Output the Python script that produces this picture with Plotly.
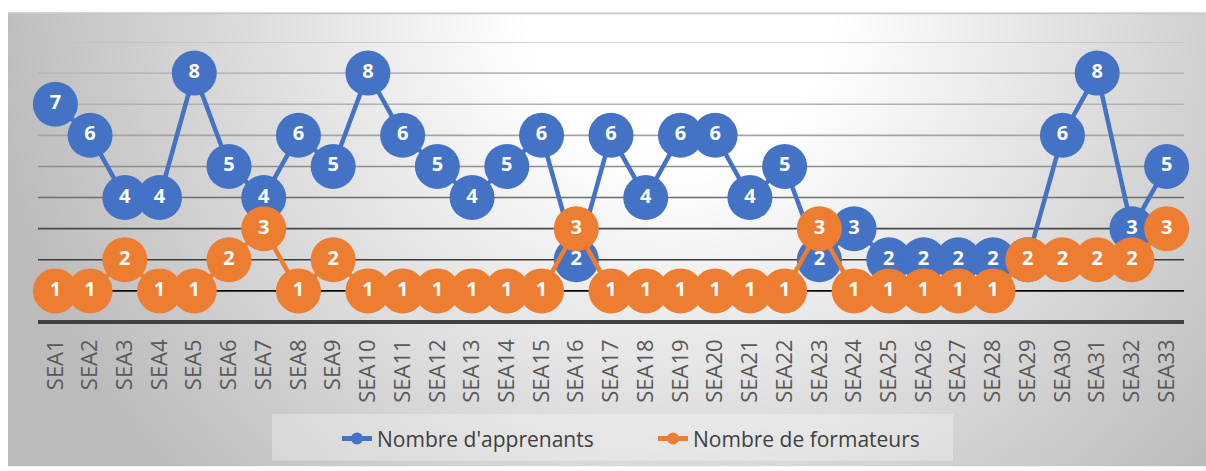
import base64
import plotly.graph_objects as go

# Sessions and counts per session
categories = [f"SEA{i}" for i in range(1, 34)]
apprenants = [7, 6, 4, 4, 8, 5, 4, 6, 5, 8, 6, 5, 4, 5, 6, 2, 6, 4, 6, 6, 4, 5,
              2, 3, 2, 2, 2, 2, 2, 6, 8, 3, 5]
formateurs = [1, 1, 2, 1, 1, 2, 3, 1, 2, 1, 1, 1, 1, 1, 1, 3, 1, 1, 1, 1, 1, 1,
              3, 1, 1, 1, 1, 1, 2, 2, 2, 2, 3]
series_names = ["Nombre d'apprenants", "Nombre de formateurs"]
grid_values = [1, 2, 3, 4, 5, 6, 7, 8, 9]

BLUE = "#4472C4"
ORANGE = "#ED7D31"
W, H = 1206, 471
ML, MR, MT, MB = 38, 22, 42, 146
PW, PH = W - ML - MR, H - MT - MB

# gradient backdrop of the chart box
box_w, box_h = W - 8, H - 12
svg = f"""<svg xmlns='http://www.w3.org/2000/svg' width='{box_w}' height='{box_h}'>
<defs><radialGradient id='g' gradientUnits='userSpaceOnUse' cx='672' cy='0' r='690'>
<stop offset='0' stop-color='#ffffff'/><stop offset='0.22' stop-color='#ffffff'/>
<stop offset='1' stop-color='#bcbcbc'/></radialGradient></defs>
<rect width='{box_w}' height='{box_h}' fill='url(#g)'/>
<rect width='{box_w}' height='2' fill='#c9c9c9'/>
</svg>"""
bg_src = "data:image/svg+xml;base64," + base64.b64encode(svg.encode()).decode()


def px_to_paper_x(px):
    return (px - ML) / PW


def px_to_paper_y(py):
    return (H - MB - py) / PH


label_font = dict(family="Open Sans", size=20, color="white", weight="bold")

fig = go.Figure()

fig.add_trace(go.Scatter(
    x=categories, y=apprenants, name=series_names[0], mode="lines+markers",
    line=dict(color=BLUE, width=4.5), cliponaxis=False,
    marker=dict(color=BLUE, size=45, line=dict(width=0)),
))
fig.add_trace(go.Scatter(
    x=categories, y=apprenants, mode="text", showlegend=False, cliponaxis=False,
    text=[str(v) for v in apprenants], textposition="middle center",
    textfont=label_font,
))
fig.add_trace(go.Scatter(
    x=categories, y=formateurs, name=series_names[1], mode="lines+markers",
    line=dict(color=ORANGE, width=4.5), cliponaxis=False,
    marker=dict(color=ORANGE, size=45, line=dict(width=0)),
))
fig.add_trace(go.Scatter(
    x=categories, y=formateurs, mode="text", showlegend=False, cliponaxis=False,
    text=[str(v) for v in formateurs], textposition="middle center",
    textfont=label_font,
))

# horizontal gridlines, darkening toward the baseline
grid_colors = ["#0a0a0a", "#3c3c3c", "#4a4a4a", "#6e6e6e", "#8f8f8f",
               "#a4a4a4", "#b2b2b2", "#b9b9b9", "#c2c2c2"]
shapes = []
for v, c in zip(grid_values, grid_colors):
    shapes.append(dict(type="line", xref="paper", yref="y", x0=0, x1=1, y0=v, y1=v,
                       line=dict(color=c, width=1.6), layer="below"))
# baseline
shapes.append(dict(type="line", xref="paper", yref="paper", x0=0, x1=1, y0=0, y1=0,
                   line=dict(color="#404040", width=4), layer="below"))
# legend panel
shapes.append(dict(type="rect", xref="paper", yref="paper",
                   x0=px_to_paper_x(272), x1=px_to_paper_x(953),
                   y0=px_to_paper_y(465), y1=px_to_paper_y(418),
                   fillcolor="rgba(255,255,255,0.3)", line=dict(width=0), layer="below"))

fig.update_layout(
    width=W, height=H,
    margin=dict(l=ML, r=MR, t=MT, b=MB),
    paper_bgcolor="white", plot_bgcolor="rgba(0,0,0,0)",
    font=dict(family="Open Sans", color="#595959"),
    showlegend=True,
    legend=dict(orientation="h", x=px_to_paper_x(337), xanchor="left",
                y=px_to_paper_y(443), yanchor="middle",
                bgcolor="rgba(0,0,0,0)", font=dict(size=21, color="#404040"),
                itemsizing="constant", entrywidth=271, entrywidthmode="pixels"),
    xaxis=dict(type="category", range=[-0.5, 32.5], tickangle=-90, showgrid=False,
               zeroline=False, showline=False, ticks="", ticklabelstandoff=12,
               tickfont=dict(size=22, color="#595959", family="Open Sans")),
    yaxis=dict(range=[0, 9], showgrid=False, zeroline=False, showticklabels=False,
               showline=False, ticks=""),
    shapes=shapes,
    images=[dict(source=bg_src, xref="paper", yref="paper",
                 x=px_to_paper_x(8), y=px_to_paper_y(12),
                 sizex=box_w / PW, sizey=box_h / PH, sizing="stretch",
                 xanchor="left", yanchor="top", layer="below")],
)

fig.write_html("out.html")
